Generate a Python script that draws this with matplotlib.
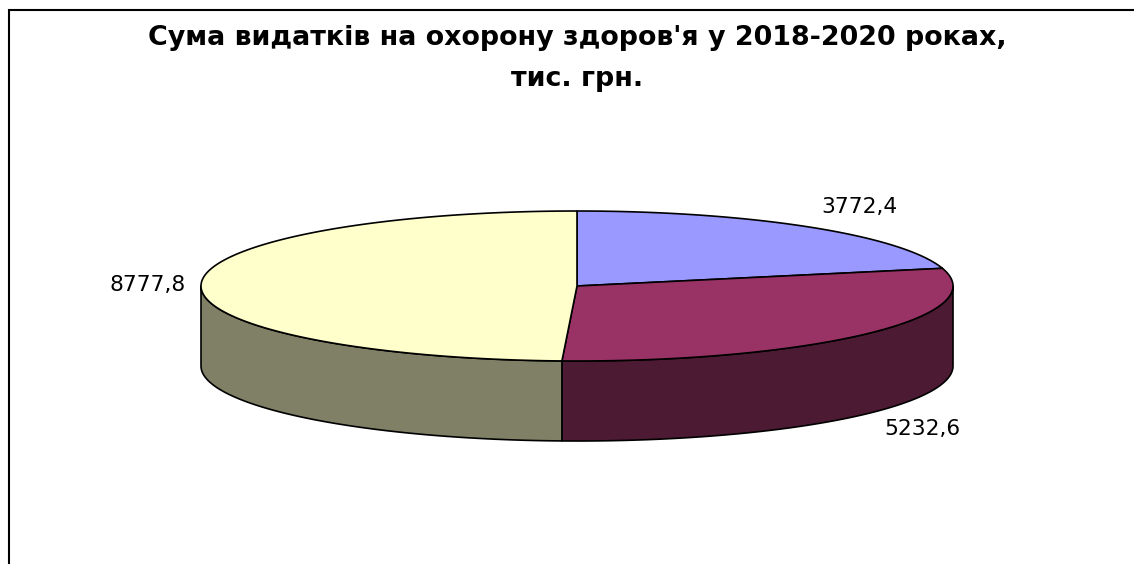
import numpy as np
import matplotlib
matplotlib.use('Agg')
import matplotlib.pyplot as plt

title_lines = ["Сума видатків на охорону здоров'я у 2018-2020 роках,", "тис. грн."]
values = [3772.4, 5232.6, 8777.8]
labels = ['3772,4', '5232,6', '8777,8']
top_colors = ['#9999ff', '#993366', '#ffffcc']
side_colors = ['#4d4d80', '#4d1a33', '#808066']

# pie geometry in pixels of the picture
cx, cy = 577, 286
rx, ry = 376, 75
depth = 80


def rim(a0, a1):
    # angles in degrees, clockwise from 12 o'clock
    t = np.radians(np.linspace(a0, a1, 200))
    return cx + rx * np.sin(t), cy - ry * np.cos(t)


fig = plt.figure(figsize=(11.34, 5.64), dpi=100)
ax = fig.add_axes([0, 0, 1, 1])
ax.set_xlim(0, 1134)
ax.set_ylim(564, 0)
ax.axis('off')

# chart frame, only the left and top edges are in the picture
ax.plot([8.5, 8.5, 1134], [564, 10, 10], color='black', lw=1.5, solid_joinstyle='miter')

edges = np.cumsum([0] + values) / sum(values) * 360

# side walls, only the front half of the rim can be seen
for i in range(len(values)):
    a0 = max(edges[i], 90)
    a1 = min(edges[i + 1], 270)
    if a1 <= a0:
        continue
    x, y = rim(a0, a1)
    ax.fill(np.r_[x, x[::-1]], np.r_[y, y[::-1] + depth], facecolor=side_colors[i],
            edgecolor='black', lw=1.2, joinstyle='round')

# top faces
for i in range(len(values)):
    x, y = rim(edges[i], edges[i + 1])
    ax.fill(np.r_[cx, x], np.r_[cy, y], facecolor=top_colors[i], edgecolor='black', lw=1.2, joinstyle='round')

ax.text(577, 38, title_lines[0], ha='center', va='center', fontsize=19.4, fontweight='bold', family='DejaVu Sans')
ax.text(577, 79, title_lines[1], ha='center', va='center', fontsize=19.4, fontweight='bold', family='DejaVu Sans')

ax.text(859, 207, labels[0], ha='center', va='center', fontsize=15.7, family='DejaVu Sans')
ax.text(922, 429, labels[1], ha='center', va='center', fontsize=15.7, family='DejaVu Sans')
ax.text(148, 285, labels[2], ha='center', va='center', fontsize=15.7, family='DejaVu Sans')

fig.savefig('out.png', dpi=100)
